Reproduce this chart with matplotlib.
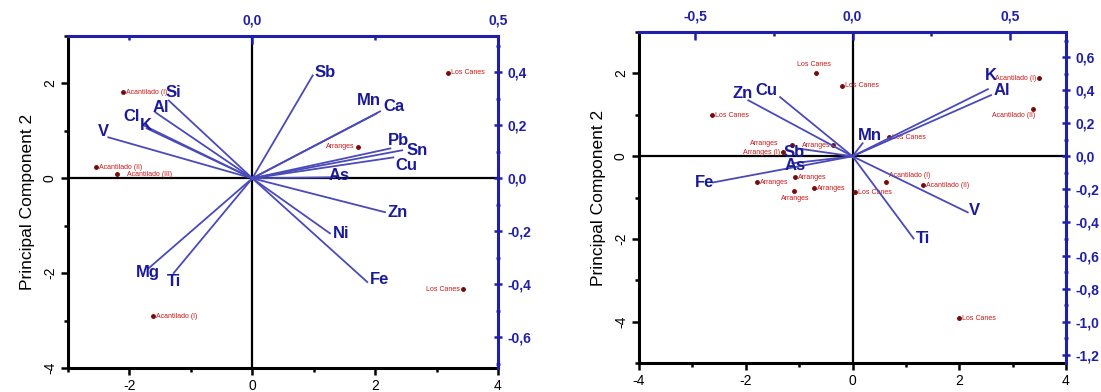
import matplotlib
matplotlib.use('Agg')
import matplotlib.pyplot as plt
from matplotlib.ticker import MultipleLocator, FuncFormatter, FixedLocator

plt.rcParams['font.family'] = ['Liberation Sans', 'DejaVu Sans']

BLUE = '#1f1fa8'
VEC = '#4a4ab8'
RED = '#cc1616'

# ---- left biplot: loadings (top/right axes) and scores (bottom/left axes)
elem_a = ['Sb', 'Mn', 'Ca', 'Pb', 'Sn', 'Cu', 'As', 'Zn', 'Ni', 'Fe', 'Mg', 'Ti', 'Si', 'Al', 'Cl', 'K', 'V']
load_a_x = [0.123, 0.253, 0.260, 0.281, 0.305, 0.287, 0.168, 0.270, 0.158, 0.234, -0.211, -0.160, -0.170, -0.197, -0.221, -0.215, -0.293]
load_a_y = [0.389, 0.245, 0.253, 0.113, 0.106, 0.079, 0.004, -0.128, -0.208, -0.392, -0.340, -0.358, 0.294, 0.249, 0.200, 0.189, 0.155]
score_a_x = [-2.10, 3.18, 1.72, -2.54, -2.20, 3.43, -1.62]
score_a_y = [1.81, 2.23, 0.67, 0.23, 0.08, -2.34, -2.91]
score_a_lab = ['Acantilado (I)', 'Los Canes', 'Arranges', 'Acantilado (II)', 'Acantilado (III)', 'Los Canes', 'Acantilado (I)']

# ---- right biplot
elem_b = ['K', 'Al', 'Mn', 'Zn', 'Cu', 'Sb', 'As', 'Fe', 'V', 'Ti']
load_b_x = [0.430, 0.440, 0.032, -0.331, -0.230, -0.175, -0.191, -0.443, 0.366, 0.194]
load_b_y = [0.406, 0.370, 0.079, 0.339, 0.358, 0.048, -0.042, -0.158, -0.339, -0.497]
score_b_x = [-0.68, -0.19, -2.63, 3.50, 3.38, 0.68, 0.62, 1.33, 0.05, 1.99,
             -1.13, -0.36, -1.30, -1.07, -1.79, -0.73, -1.10]
score_b_y = [2.01, 1.70, 0.99, 1.89, 1.14, 0.46, -0.63, -0.70, -0.87, -3.92,
             0.27, 0.27, 0.10, -0.51, -0.63, -0.77, -0.85]
score_b_lab = ['Los Canes', 'Los Canes', 'Los Canes', 'Acantilado (I)', 'Acantilado (II)', 'Los Canes',
               'Acantilado (I)', 'Acantilado (II)', 'Los Canes', 'Los Canes',
               'Arranges', 'Arranges', 'Arranges (I)', 'Arranges', 'Arranges', 'Arranges', 'Arranges']

# label offsets in pixels (dx, dy) from the vector tip
off_a = {'Sb': (2, 3), 'Mn': (-20, 13), 'Ca': (3, 5), 'Pb': (-2, 8), 'Sn': (4, 0), 'Cu': (2, -8),
         'As': (-6, 2), 'Zn': (3, 0), 'Ni': (3, 0), 'Fe': (3, 3), 'Mg': (-13, -4), 'Ti': (-7, -8),
         'Si': (-3, 8), 'Al': (-3, 5), 'Cl': (-20, 9), 'K': (-7, 3), 'V': (-10, 6)}
off_b = {'K': (-3, 14), 'Al': (3, 5), 'Mn': (-5, 8), 'Zn': (-16, 7), 'Cu': (-25, 7), 'Sb': (-14, -4),
         'As': (-8, -2), 'Fe': (-18, 0), 'V': (1, 2), 'Ti': (2, 0)}
side_a = ['r', 'r', 'l', 'r', 'rr', 'l', 'r']
side_b = ['a', 'r', 'r', 'l', 'bl', 'r', 'ar', 'r', 'r', 'r', 'll', 'l', 'l', 'r', 'r', 'r', 'b']


def comma(v, pos):
    s = '%.1f' % v
    if s == '-0.0':
        s = '0.0'
    return s.replace('.', ',')


def biplot(fig, rect, xlim, ylim, top_lim, right_lim, top_ticks, right_ticks,
           elems, lx, ly, offs, sx, sy, slab, sides):
    ax = fig.add_axes(rect)
    ax.set_xlim(*xlim)
    ax.set_ylim(*ylim)
    ax.axhline(0, color='black', lw=1.6, zorder=1)
    ax.axvline(0, color='black', lw=1.6, zorder=1)
    ax.xaxis.set_major_locator(MultipleLocator(2))
    ax.xaxis.set_minor_locator(MultipleLocator(1))
    ax.yaxis.set_major_locator(MultipleLocator(2))
    ax.yaxis.set_minor_locator(MultipleLocator(1))
    ax.xaxis.set_major_formatter(FuncFormatter(lambda v, p: '%d' % v))
    ax.yaxis.set_major_formatter(FuncFormatter(lambda v, p: '%d' % v))
    ax.tick_params(which='both', direction='out', width=1.8, labelsize=10, pad=3)
    ax.tick_params(which='major', length=5)
    ax.tick_params(which='minor', length=3)
    for lab in ax.get_yticklabels():
        lab.set_rotation(90)
        lab.set_va('center')
    ax.set_ylabel('Principal Component 2', fontsize=12.5, labelpad=6)
    for s in ['left', 'bottom']:
        ax.spines[s].set_linewidth(2.2)
    ax.spines['top'].set_visible(False)
    ax.spines['right'].set_visible(False)

    ax.plot(sx, sy, 'o', color='#7a0a0a', ms=2.5, zorder=3)
    for x, y, t, sd in zip(sx, sy, slab, sides):
        if sd == 'r':
            xy, ha, va = (3, 0), 'left', 'center'
        elif sd == 'rr':
            xy, ha, va = (10, 0), 'left', 'center'
        elif sd == 'l':
            xy, ha, va = (-3, 0), 'right', 'center'
        elif sd == 'll':
            xy, ha, va = (-14, 2), 'right', 'center'
        elif sd == 'a':
            xy, ha, va = (-2, 5), 'center', 'bottom'
        elif sd == 'b':
            xy, ha, va = (2, -4), 'center', 'top'
        elif sd == 'bl':
            xy, ha, va = (2, -3), 'right', 'top'
        else:
            xy, ha, va = (3, 3), 'left', 'bottom'
        ax.annotate(t, (x, y), xytext=xy, textcoords='offset pixels',
                    fontsize=5, color=RED, ha=ha, va=va, zorder=4)

    # loadings axes sharing the same box
    lax = fig.add_axes(rect)
    lax.patch.set_visible(False)
    lax.set_xlim(*top_lim)
    lax.set_ylim(*right_lim)
    lax.xaxis.tick_top()
    lax.yaxis.tick_right()
    lax.xaxis.set_major_locator(FixedLocator(top_ticks))
    lax.xaxis.set_minor_locator(MultipleLocator(0.25))
    lax.yaxis.set_major_locator(FixedLocator(right_ticks))
    lax.yaxis.set_minor_locator(MultipleLocator(0.1))
    lax.xaxis.set_major_formatter(FuncFormatter(comma))
    lax.yaxis.set_major_formatter(FuncFormatter(comma))
    lax.tick_params(which='both', colors=BLUE, width=1.8, labelsize=10, labelcolor=BLUE)
    lax.tick_params(axis='x', which='both', direction='in', pad=6)
    lax.tick_params(axis='y', which='both', direction='inout', pad=4)
    lax.tick_params(which='major', length=6)
    lax.tick_params(which='minor', length=3)
    for lab in lax.get_xticklabels() + lax.get_yticklabels():
        lab.set_fontweight('bold')
    lax.spines['left'].set_visible(False)
    lax.spines['bottom'].set_visible(False)
    for s in ['top', 'right']:
        lax.spines[s].set_color(BLUE)
        lax.spines[s].set_linewidth(2.2)

    for e, x, y in zip(elems, lx, ly):
        lax.plot([0, x], [0, y], color=VEC, lw=1.3, zorder=2)
        dx, dy = offs[e]
        lax.annotate(e, (x, y), xytext=(dx, dy), textcoords='offset pixels',
                     fontsize=12, fontweight='bold', color='#1a1a9a',
                     ha='left', va='center', zorder=5)
    return ax, lax


fig = plt.figure(figsize=(11.01, 3.92), dpi=100)

biplot(fig, [0.0618, 0.0612, 0.3905, 0.847], (-3, 4), (-4, 3),
       (-0.375, 0.5), (-0.717, 0.538), [0.0, 0.5], [-0.6, -0.4, -0.2, 0.0, 0.2, 0.4],
       elem_a, load_a_x, load_a_y, off_a, score_a_x, score_a_y, score_a_lab, side_a)

biplot(fig, [0.5804, 0.074, 0.3878, 0.844], (-4, 4), (-5, 3),
       (-0.678, 0.678), (-1.25, 0.751), [-0.5, 0.0, 0.5],
       [-1.2, -1.0, -0.8, -0.6, -0.4, -0.2, 0.0, 0.2, 0.4, 0.6],
       elem_b, load_b_x, load_b_y, off_b, score_b_x, score_b_y, score_b_lab, side_b)

fig.savefig('out.png', dpi=100)
